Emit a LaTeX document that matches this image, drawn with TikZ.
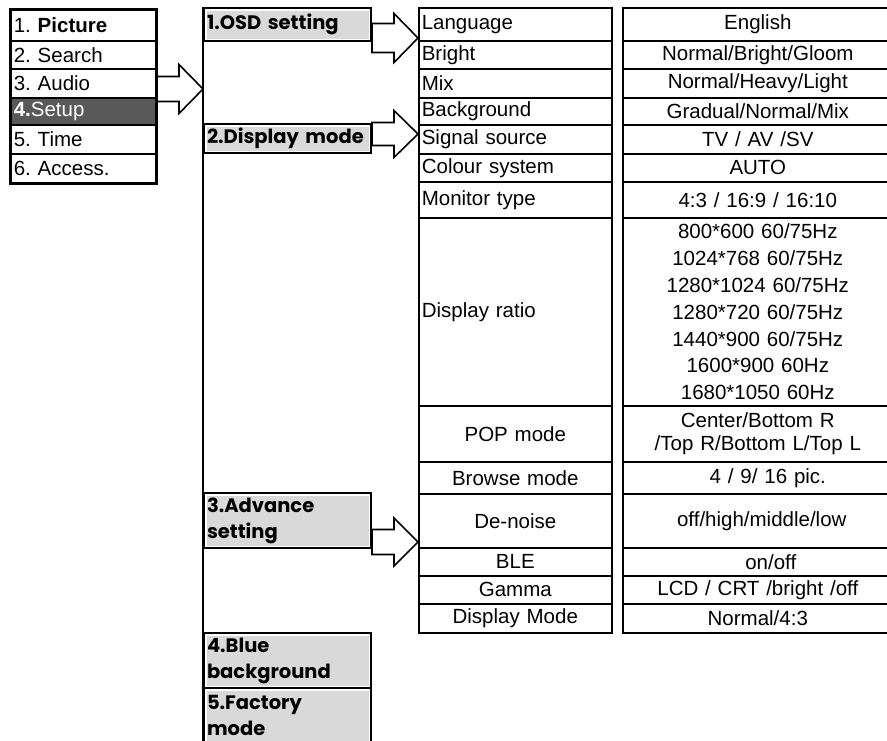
\documentclass[tikz,border=0pt]{standalone}
\usepackage{fontspec}
\setmainfont{Liberation Sans}
\newfontfamily\gothic{Poppins}
\usetikzlibrary{calc}
\frenchspacing
\definecolor{menudark}{RGB}{89,89,89}
\definecolor{subgrey}{RGB}{217,217,217}

\newcommand{\fatarrow}[4]{%
	\draw[fat] let \p1=(#1.east), \p2=(#2) in
		(\x1,\y2+#3pt) -- (\x2-24pt,\y2+#3pt) -- (\x2-24pt,\y2+#4pt) -- (\x2,\y2)
		-- (\x2-24pt,\y2-#4pt) -- (\x2-24pt,\y2-#3pt) -- (\x1,\y2-#3pt) -- cycle;}

\begin{document}
\begin{tikzpicture}[x=1pt, y=-1pt]

			\tikzstyle{cell}=[rectangle, draw=black, line width=1.6pt, anchor=north west, inner xsep=3pt, inner ysep=0pt, font=\fontsize{20.5}{26.9}\selectfont]
			\tikzstyle{menu}=[cell, text width=139pt, align=left]
			\tikzstyle{item}=[cell, text width=187pt, align=left]
			\tikzstyle{itemc}=[item, align=center]
			\tikzstyle{value}=[cell, text width=264pt, align=center]
			\tikzstyle{sub}=[cell, line width=2pt, text width=161pt, align=left, font=\gothic\bfseries\fontsize{19.5}{26}\selectfont,
				path picture={\fill[subgrey] ([shift={(2.5pt,-2.5pt)}]path picture bounding box.north west) rectangle ([shift={(-2.5pt,2.5pt)}]path picture bounding box.south east);}]
			\tikzstyle{fat}=[draw=black, fill=white, line width=1.6pt, line join=miter]

			\useasboundingbox (0,0) rectangle (887,740);

			% main menu
			\node at (10,9) (picture) [menu, minimum height=31] {1. \textbf{Picture}};
			\node at (10,40) (search) [menu, minimum height=28] {2. Search};
			\node at (10,68) (audio) [menu, minimum height=29] {3. Audio};
			\node at (10,97) (setup) [menu, minimum height=27, fill=menudark, text=white] {\textbf{4.}Setup};
			\node at (10,124) (time) [menu, minimum height=29] {5. Time};
			\node at (10,153) (access) [menu, minimum height=29] {6. Access.};

			% setup menu
			\node at (203,7) (osd) [sub, minimum height=33] {1.OSD setting};
			\node at (203,123) (disp) [sub, minimum height=29] {2.Display mode};
			\node at (203,492) (adv) [sub, minimum height=55] {3.Advance\\setting};
			\node at (203,632) (blue) [sub, minimum height=55] {4.Blue\\background};
			\node at (203,687) (factory) [sub, minimum height=55] {5.Factory\\mode};
			\draw[line width=2pt] (osd.north west) -- (factory.south west);

			% items
			\node at (418,7) (lang) [item, minimum height=33] {Language};
			\node at (418,40) (bright) [item, minimum height=28] {Bright};
			\node at (418,68) (mix) [item, minimum height=29] {Mix};
			\node at (418,97) (backgr) [item, minimum height=27] {Background};
			\node at (418,124) (signal) [item, minimum height=29] {Signal source};
			\node at (418,153) (colour) [item, minimum height=28] {Colour system};
			\node at (418,181) (monitor) [item, minimum height=36] {Monitor type};
			\node at (418,217) (ratio) [item, minimum height=188] {Display ratio};
			\node at (418,405) (pop) [itemc, minimum height=56] {POP mode};
			\node at (418,461) (browse) [itemc, minimum height=32] {Browse mode};
			\node at (418,493) (denoise) [itemc, minimum height=54] {De-noise};
			\node at (418,547) (ble) [itemc, minimum height=28] {BLE};
			\node at (418,575) (gamma) [itemc, minimum height=28] {Gamma};
			\node at (418,603) (dmode) [itemc, minimum height=29] {Display Mode};

			% values
			\node at (622,7) (langval) [value, minimum height=33] {English};
			\node at (622,40) (brightval) [value, minimum height=28] {Normal/Bright/Gloom};
			\node at (622,68) (mixval) [value, minimum height=29] {Normal/Heavy/Light};
			\node at (622,97) (backgrval) [value, minimum height=27] {Gradual/Normal/Mix};
			\node at (622,124) (signalval) [value, minimum height=29] {TV / AV /SV};
			\node at (622,153) (colourval) [value, minimum height=28] {AUTO};
			\node at (622,181) (monitorval) [value, minimum height=36] {4:3 / 16:9 / 16:10};
			\node at (622,217) (ratioval) [value, minimum height=188] {800*600 60/75Hz\\1024*768 60/75Hz\\1280*1024 60/75Hz\\1280*720 60/75Hz\\1440*900 60/75Hz\\1600*900 60Hz\\1680*1050 60Hz};
			\node at (622,405) (popval) [value, minimum height=56, font=\fontsize{20.5}{23}\selectfont] {Center/Bottom R\\/Top R/Bottom L/Top L};
			\node at (622,461) (browseval) [value, minimum height=32] {\hspace*{20pt}4 / 9/ 16 pic.};
			\node at (622,493) (denoiseval) [value, minimum height=54] {\hspace*{8pt}off/high/middle/low};
			\node at (622,547) (bleval) [value, minimum height=28] {\hspace*{26pt}on/off};
			\node at (622,575) (gammaval) [value, minimum height=28] {LCD / CRT /bright /off};
			\node at (622,603) (dmodeval) [value, minimum height=29] {Normal/4:3};

			\coordinate (tipmenu) at (203,89);
			\coordinate (tiposd) at (418,38);
			\coordinate (tipdisp) at (418,134);
			\coordinate (tipadv) at (418,542);

			\fatarrow{setup}{tipmenu}{12.5}{24.5}
			\fatarrow{osd}{tiposd}{14.5}{24.5}
			\fatarrow{disp}{tipdisp}{11.5}{23.5}
			\fatarrow{adv}{tipadv}{12.5}{24}

			\draw[line width=3pt] (picture.north west) rectangle (access.south east);
		\end{tikzpicture}
\end{document}
